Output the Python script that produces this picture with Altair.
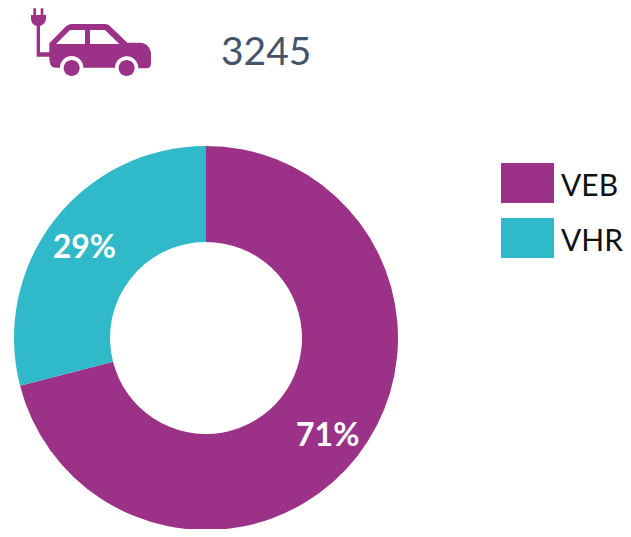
import altair as alt
import pandas as pd

categories = ["VEB", "VHR"]
shares = [71, 29]
labels = ["71%", "29%"]
headline = "3245"
PURPLE = "#9B3288"
TEAL = "#2FB9C9"
FONT = "Lato"

# Icon in a 420x255 design grid, placed by the point mark and scaled by size
ICON = (
    "M40,25H48V45H62V25H70V45H78V55C78,68 68,76 60,78V157H88V130L135,82C141,76 147,72 155,72"
    "H255C262,72 268,75 272,80L322,128H360C380,128 393,145 393,162V190C393,200 388,205 380,205"
    "H355A35,35 0 0 0 285,203H190A35,35 0 0 0 120,203H108C95,203 88,195 88,170H50V78"
    "C40,76 33,68 33,55V45H40Z"
    "M108,132H195V90H150Z"
    "M210,132H298L255,90H210Z"
    "M131,204A24,24 0 0 0 179,204A24,24 0 0 0 131,204Z"
    "M296,204A24,24 0 0 0 344,204A24,24 0 0 0 296,204Z"
)
SWATCH = "M-1,-0.905H1V0.605H-1Z"

df = pd.DataFrame({"category": categories, "share": shares, "label": labels})
cx, cy = 198, 330

color = alt.Color(
    "category:N",
    scale=alt.Scale(domain=categories, range=[PURPLE, TEAL]),
    legend=alt.Legend(
        title=None,
        orient="none",
        legendX=493,
        legendY=152.5,
        symbolType=SWATCH,
        symbolSize=2809,
        symbolOpacity=1,
        symbolStrokeWidth=0,
        labelFont=FONT,
        labelFontSize=30,
        labelColor="#111111",
        labelOffset=7,
        rowPadding=12,
        padding=0,
    ),
)

base = alt.Chart(df).encode(
    theta=alt.Theta("share:Q", stack=True),
    order=alt.Order("share:Q", sort="descending"),
    x=alt.value(cx),
    y=alt.value(cy),
)
donut = base.mark_arc(innerRadius=96, outerRadius=192).encode(color=color)
pct = base.mark_text(
    radius=154, dy=4, font=FONT, fontSize=32, fontWeight="bold", color="white"
).encode(text="label:N")

head_df = pd.DataFrame({"headline": [headline]})
title = alt.Chart(head_df).mark_text(
    font=FONT, fontSize=39, color="#44546A", align="left", baseline="middle"
).encode(text="headline:N", x=alt.value(213), y=alt.value(45))
icon = alt.Chart(head_df).mark_point(
    shape=ICON, filled=True, size=4 / 9, color=PURPLE, opacity=1, strokeWidth=0
).encode(x=alt.value(12), y=alt.value(-8))

chart = (
    alt.layer(donut, pct, title, icon)
    .properties(width=615, height=521, padding=0, autosize=alt.AutoSizeParams(type="none"))
    .configure_view(stroke=None)
)
chart.save("out.html", embed_options={"renderer": "svg", "actions": False})
